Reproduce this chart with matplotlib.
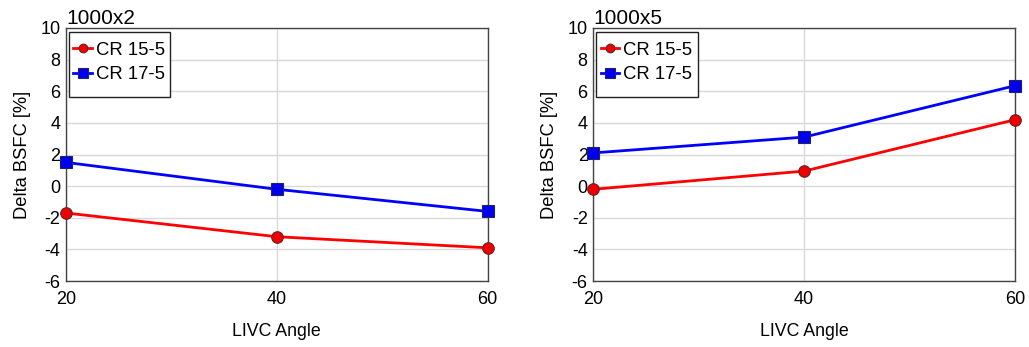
import matplotlib
matplotlib.use("Agg")
import matplotlib.pyplot as plt
from matplotlib.patches import Rectangle

plt.rcParams['font.family'] = ['Liberation Sans', 'DejaVu Sans']
plt.rcParams['axes.unicode_minus'] = False

angles = [20, 40, 60]
titles = ["1000x2", "1000x5"]
cr15_left = [-1.7, -3.2, -3.9]
cr17_left = [1.5, -0.2, -1.6]
cr15_right = [-0.2, 0.95, 4.2]
cr17_right = [2.1, 3.1, 6.35]
yticks = [-6, -4, -2, 0, 2, 4, 6, 8, 10]

fig = plt.figure(figsize=(10.29, 3.47), dpi=100)
lefts = [66/1029, 593.3/1029]
w = 421.7/1029
b = 1 - 281/347
h = 253/347
data = [(cr15_left, cr17_left), (cr15_right, cr17_right)]

for i in range(2):
    ax = fig.add_axes([lefts[i], b, w, h])
    r, bl = data[i]
    ax.plot(angles, r, '-o', color='#ff0000', lw=2, ms=8.3, mfc='#ee0000',
            mec='#662222', mew=0.8, label='CR 15-5', clip_on=False, zorder=3)
    ax.plot(angles, bl, '-s', color='#0000ff', lw=2, ms=8.8, mfc='#0000ee',
            mec='#222266', mew=0.8, label='CR 17-5', clip_on=False, zorder=3)
    ax.set_xlim(20, 60)
    ax.set_ylim(-6, 10)
    ax.set_xticks(angles)
    ax.set_yticks(yticks)
    ax.grid(True, color='#d9d9d9', lw=1)
    ax.set_axisbelow(True)
    ax.tick_params(length=0, labelsize=13, pad=4)
    ax.tick_params(axis='x', pad=7)
    for s in ax.spines.values():
        s.set_color('#444444')
        s.set_linewidth(1)
    ax.set_xlabel('LIVC Angle', fontsize=12.8, labelpad=11)
    ax.set_ylabel('Delta BSFC [%]', fontsize=13.2, labelpad=7)
    ax.set_title(titles[i], loc='left', fontsize=15, pad=1)
    x0 = (68.7 - 66) / 421.7
    wl = (170.3 - 68.7) / 421.7
    yt = (281 - 32) / 253
    yb = (281 - 97) / 253
    ax.add_patch(Rectangle((x0, yb), wl, yt - yb, transform=ax.transAxes,
                           facecolor='white', edgecolor='#222222', lw=1, zorder=4))
    leg = ax.legend(loc='upper left', bbox_to_anchor=(x0 - 0.004, yt - 0.012),
                    fontsize=13.3, frameon=False, handlelength=1.0,
                    handletextpad=0.2, borderaxespad=0.0, borderpad=0.35,
                    labelspacing=0.42, markerscale=0.75)
    leg.set_zorder(5)

fig.savefig('out.png', dpi=100)
